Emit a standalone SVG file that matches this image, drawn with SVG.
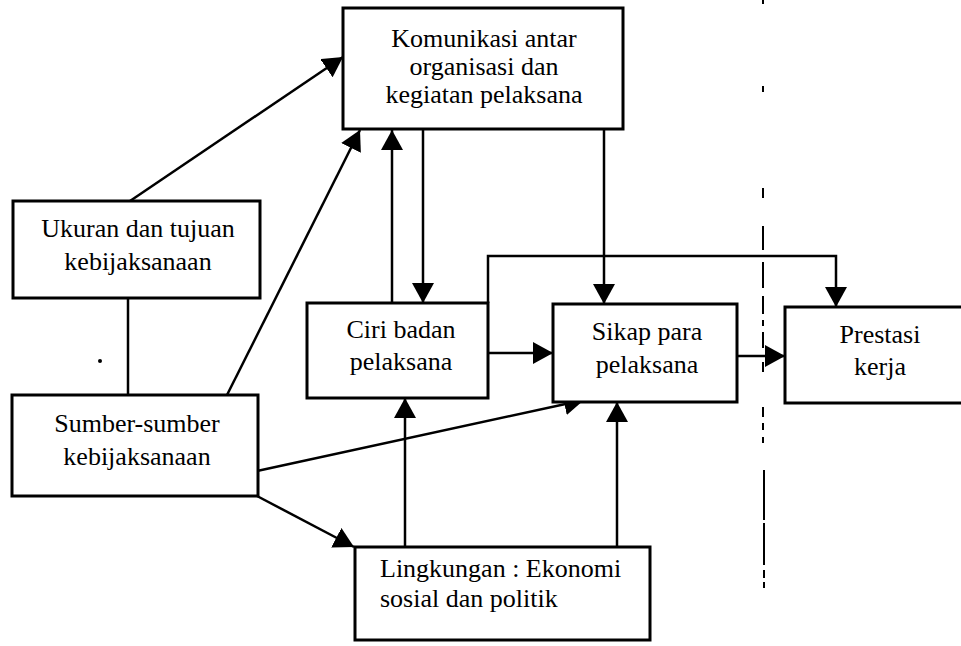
<svg xmlns="http://www.w3.org/2000/svg" width="961" height="646" viewBox="0 0 961 646">
<style>
.box{fill:#fff;stroke:#000;stroke-width:3}
.t{font-family:"Liberation Serif","Times New Roman",serif;font-size:26px;fill:#000}
.c{text-anchor:middle}
.ln{fill:none;stroke:#000;stroke-width:2.5}
.dash{fill:none;stroke:#000;stroke-width:2}
</style>
<defs>
<marker id="ah" viewBox="0 0 20 22" refX="20" refY="11" markerWidth="20" markerHeight="22" orient="auto" markerUnits="userSpaceOnUse">
<path d="M0,0 L20,11 L0,22 z" fill="#000"/>
</marker>
</defs>
<rect width="961" height="646" fill="#fff"/>
<g id="separator">
<path class="dash" d="M763,0 V4 M763,86 V92 M763,188 V198 M763,226 V250 M763,262 V288 M763,296 V314 M763,320 V326 M763,332 V348 M763,362 V372 M763,407 V417 M763,423 V430 M763,437 V443 M764,470 V520 M764,523 V565 M764,570 V578 M764,582 V588"/>
</g>
<g id="connectors">
<path class="ln" d="M128,298 L128,395"/>
<path class="ln" d="M130,201 L343,57" marker-end="url(#ah)"/>
<path class="ln" d="M227,395 L360,130" marker-end="url(#ah)"/>
<path class="ln" d="M392,303 L392,130" marker-end="url(#ah)"/>
<path class="ln" d="M423,130 L423,303" marker-end="url(#ah)"/>
<path class="ln" d="M604,130 L604,304" marker-end="url(#ah)"/>
<path class="ln" d="M488,303 L488,256 L836,256 L836,307" marker-end="url(#ah)"/>
<path class="ln" d="M488,353 L553,353" marker-end="url(#ah)"/>
<path class="ln" d="M737,356 L785,356" marker-end="url(#ah)"/>
<path class="ln" d="M257,471 L584,400" marker-end="url(#ah)"/>
<path class="ln" d="M257,496 L354,547" marker-end="url(#ah)"/>
<path class="ln" d="M405,547 L405,398" marker-end="url(#ah)"/>
<path class="ln" d="M617,547 L617,402" marker-end="url(#ah)"/>
<circle cx="100" cy="361" r="2" fill="#000"/>
</g>
<g id="komunikasi">
<rect class="box" x="343" y="8" width="280" height="121"/>
<text class="t c" x="484" y="47">Komunikasi antar</text>
<text class="t c" x="484" y="75">organisasi dan</text>
<text class="t c" x="484" y="103">kegiatan pelaksana</text>
</g>
<g id="ukuran">
<rect class="box" x="13" y="201" width="247" height="97"/>
<text class="t c" x="138" y="237">Ukuran dan tujuan</text>
<text class="t c" x="138" y="270">kebijaksanaan</text>
</g>
<g id="sumber">
<rect class="box" x="12" y="395" width="246" height="101"/>
<text class="t c" x="137" y="432">Sumber-sumber</text>
<text class="t c" x="137" y="465">kebijaksanaan</text>
</g>
<g id="ciri">
<rect class="box" x="307" y="303" width="181" height="95"/>
<text class="t c" x="401" y="338">Ciri badan</text>
<text class="t c" x="401" y="370">pelaksana</text>
</g>
<g id="sikap">
<rect class="box" x="553" y="304" width="184" height="98"/>
<text class="t c" x="647" y="340">Sikap para</text>
<text class="t c" x="647" y="373">pelaksana</text>
</g>
<g id="prestasi">
<rect class="box" x="785" y="307" width="180" height="96"/>
<text class="t c" x="880" y="343">Prestasi</text>
<text class="t c" x="880" y="375">kerja</text>
</g>
<g id="lingkungan">
<rect class="box" x="355" y="547" width="295" height="93"/>
<text class="t" x="380" y="577">Lingkungan : Ekonomi</text>
<text class="t" x="380" y="607">sosial dan politik</text>
</g>
</svg>
